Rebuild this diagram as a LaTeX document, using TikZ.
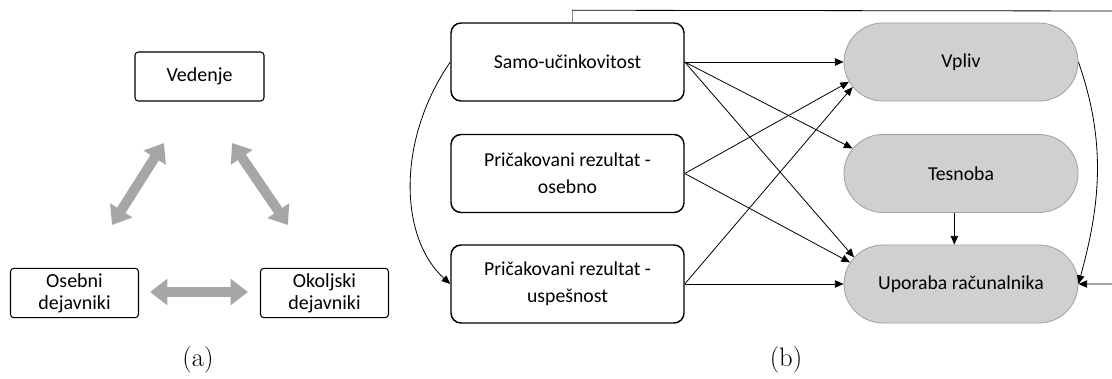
\documentclass[tikz,border=0pt]{standalone}
\usepackage{fontspec}
\newfontfamily\calibri{Carlito}
\usetikzlibrary{arrows.meta,shapes.misc}
\definecolor{pillfill}{HTML}{D0D0D0}
\definecolor{pillborder}{HTML}{A0A0A0}
\definecolor{arrowgray}{HTML}{A6A6A6}
\definecolor{stubblue}{HTML}{6F8FD0}
\begin{document}
\begin{tikzpicture}[x=0.75pt,y=-0.75pt,
  lbox/.style={draw=black, line width=0.8pt, rounded corners=2.5pt,
    minimum width=96pt, minimum height=37pt, align=center, inner sep=0pt,
    font=\calibri\fontsize{15}{16.5}\selectfont},
  rbox/.style={draw=black, line width=1.1pt, rounded corners=7.5pt,
    minimum width=174.75pt, minimum height=58.5pt, align=center, inner sep=0pt,
    font=\calibri\fontsize{14.8}{20}\selectfont},
  pill/.style={rounded rectangle, draw=pillborder, line width=0.6pt, fill=pillfill,
    minimum width=175.5pt, minimum height=58.5pt, inner sep=0pt,
    font=\calibri\fontsize{14.8}{20}\selectfont},
  link/.style={line width=0.6pt, -{Triangle[length=6.5pt,width=5.5pt]}},
  bigarrow/.style={line width=7.5pt, draw=arrowgray,
    {Triangle[length=13pt,width=19pt]}-{Triangle[length=13pt,width=19pt]}},
  sublabel/.style={font=\fontsize{20}{24}\selectfont, inner sep=0pt, anchor=base}
]
\useasboundingbox (0,0) rectangle (1112,378);
\clip (0,0) rectangle (1112,378);

% ---- (a) triadic model ----
\node[lbox, minimum width=96.75pt, minimum height=36.75pt] (vedenje) at (199.5,76.5) {Vedenje};
\node[lbox] (osebni) at (74.5,293) {Osebni\\dejavniki};
\node[lbox] (okoljski) at (324.5,293) {Okoljski\\dejavniki};

\coordinate (g1a) at (112,225);
\coordinate (g1b) at (164,143);
\coordinate (g2a) at (232,143);
\coordinate (g2b) at (288,225);
\coordinate (g3a) at (150,292);
\coordinate (g3b) at (248,292);
\draw[bigarrow] (g1a) -- (g1b);
\draw[bigarrow] (g2a) -- (g2b);
\draw[bigarrow] (g3a) -- (g3b);

\node[sublabel] (lbla) at (198,366) {(a)};

% ---- (b) path model ----
\node[rbox] (samo) at (567.5,62) {Samo-učinkovitost};
\node[rbox] (osebno) at (567.5,173.5) {Pričakovani rezultat -\\osebno};
\node[rbox] (uspesnost) at (567.5,284) {Pričakovani rezultat -\\uspešnost};

\node[pill] (vpliv) at (961,62) {Vpliv};
\node[pill] (tesnoba) at (961,173.5) {Tesnoba};
\node[pill] (uporaba) at (961,284) {Uporaba računalnika};

\draw[link] (samo.east) -- (vpliv.west);
\draw[link] (samo.east) -- (tesnoba.167);
\draw[link] (samo.east) -- (uporaba.166);
\draw[link] (osebno.east) -- (vpliv.190);
\draw[link] (osebno.east) -- (uporaba.169);
\draw[link] (uspesnost.east) -- (vpliv.193);
\draw[link] (uspesnost.east) -- (uporaba.west);
\draw[link] ([xshift=-5pt]tesnoba.south) -- ([xshift=-5pt]uporaba.north);

\draw[link] (samo.west) .. controls +(-55,80) and +(-50,-45) .. (uspesnost.west);
\draw[link] (vpliv.east) .. controls +(28,80) and +(22,-80) .. (uporaba.east);

% feedback route along the top edge
\draw[line width=0.6pt, stubblue] ([xshift=3.5pt]samo.north) -- ++(0,-12) coordinate (topturn);
\coordinate (offright) at (1125,11);
\draw[link] (topturn) -- (offright) |- (uporaba.east);

\node[sublabel] (lblb) at (786,366) {(b)};
\end{tikzpicture}
\end{document}
